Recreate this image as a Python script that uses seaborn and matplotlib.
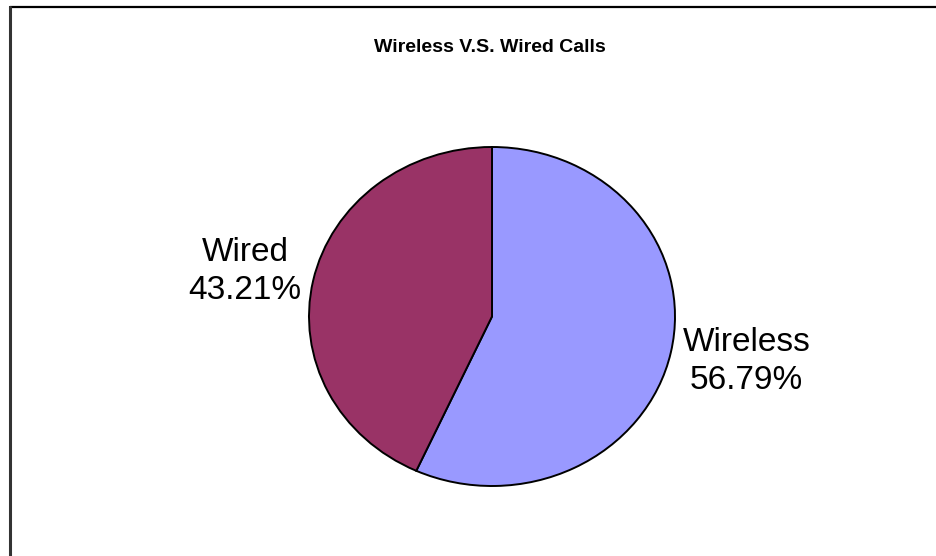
import numpy as np
import matplotlib.pyplot as plt
import seaborn as sns
from matplotlib.lines import Line2D

# Set Seaborn style
sns.set_style('white')
plt.rcParams['font.family'] = ['Liberation Sans', 'DejaVu Sans']
plt.rcParams['text.color'] = 'black'

# Data
categories = ['Wireless', 'Wired']
shares = [56.79, 43.21]
colors = sns.color_palette(['#9999FF', '#993366'])

fig = plt.figure(figsize=(9.36, 5.56), dpi=100)

# Pie axes placed in pixel box (Excel-style slightly elliptical pie)
W, H = 936, 556
x0, x1, y0, y1 = 309, 675, 147, 486
ax = fig.add_axes([x0 / W, (H - y1) / H, (x1 - x0) / W, (y1 - y0) / H])

wedges, _ = ax.pie(shares, colors=colors, startangle=90, counterclock=False,
                   wedgeprops={'edgecolor': 'black', 'linewidth': 1.4})
ax.set_aspect('auto')
ax.set_xlim(-1, 1)
ax.set_ylim(-1, 1)
ax.axis('off')

# Labels outside each wedge
for w, name, val in zip(wedges, categories, shares):
    mid = np.deg2rad((w.theta1 + w.theta2) / 2)
    x, y = 1.065 * np.cos(mid), 1.26 * np.sin(mid)
    ha = 'left' if x > 0 else 'right'
    ax.text(x, y, f'{name}\n{val:.2f}%', ha=ha, va='center', color='black',
            multialignment='center', fontsize=24, linespacing=1.3,
            clip_on=False)

fig.text(0.523, 1 - 47 / H, 'Wireless V.S. Wired Calls', ha='center', va='center',
         fontsize=14, fontweight='bold', color='black')

# Chart frame (top and left edges visible)
fig.add_artist(Line2D([10 / W, 1], [1 - 7 / H, 1 - 7 / H], color='black', linewidth=1.6))
fig.add_artist(Line2D([10 / W, 10 / W], [0, 1 - 7 / H], color='#333333', linewidth=2.2))

fig.savefig('out.png', dpi=100)
plt.close()
